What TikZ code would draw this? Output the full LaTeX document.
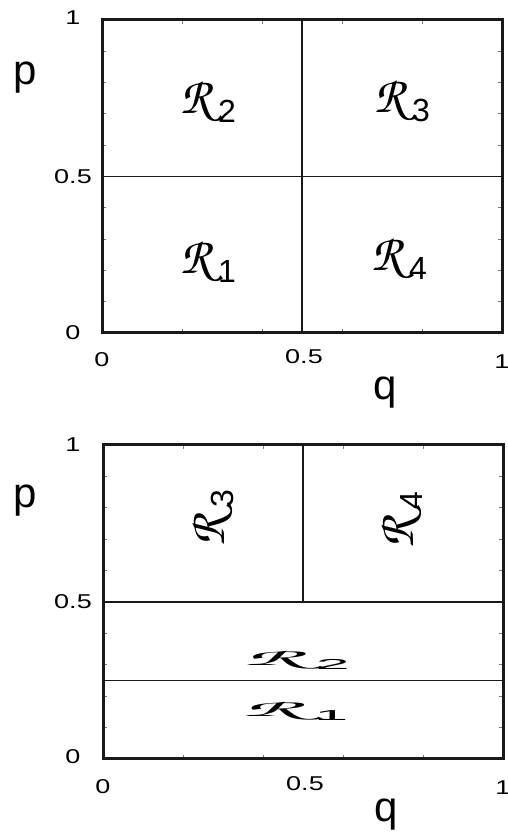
\documentclass[tikz,border=0pt]{standalone}
\usepackage{fontspec}
\setmainfont{Liberation Sans}
\usetikzlibrary{positioning}
\definecolor{marco}{RGB}{25,25,25}
\definecolor{grisf}{RGB}{120,120,120}
\newcommand{\caligr}{{\fontencoding{T1}\fontfamily{pzc}\fontseries{mb}\fontshape{it}\selectfont R}}
\newcommand{\reg}[1]{\caligr\kern3.5pt\raisebox{-4.5pt}{\fontsize{16}{16}\selectfont #1}}
\newcommand{\ejes}{%
  \foreach \t in {0.2,0.4,0.6,0.8} {
    \draw[tic] (\t,0) -- ++(0,2pt);
    \draw[tic] (\t,1) -- ++(0,-2pt);
  }
  \foreach \t in {0.1,0.2,...,0.9} {
    \draw[tic] (0,\t) -- ++(2pt,0);
    \draw[tic] (1,\t) -- ++(-2pt,0);
  }}
\tikzset{
  borde/.style={draw=marco, line width=1.5pt},
  linea/.style={draw=marco, line width=0.6pt},
  tic/.style={draw=grisf, line width=0.5pt},
  num/.style={font=\fontsize{10}{10}\selectfont, inner sep=0pt, xscale=1.35},
  eje/.style={font=\fontsize{21}{21}\selectfont, inner sep=0pt},
  reg/.style={font=\fontsize{26}{26}\selectfont, inner sep=0pt},
}
\begin{document}
\begin{tikzpicture}[x=0.5pt, y=0.5pt]
  \useasboundingbox (0,0) rectangle (508,835);
  % upper panel
  \begin{scope}[xshift=51pt, yshift=251pt, x=200pt, y=156.5pt]
    \ejes
    \draw[linea] (0,0.5) -- (1,0.5);
    \draw[linea] (0.5,0) -- (0.5,1);
    \draw[borde] (0,0) rectangle (1,1);
    \node[xshift=-14.5pt, yshift=1pt, num] (a1) at (0,1) {1};
    \node[xshift=-14.5pt, num] (a5) at (0,0.5) {0.5};
    \node[xshift=-14.5pt, num] (a0) at (0,0) {0};
    \node[yshift=-13.5pt, num] (b0) at (0,0) {0};
    \node[xshift=1pt, yshift=-12pt, num] (b5) at (0.5,0) {0.5};
    \node[yshift=-14.5pt, num] (b1) at (1,0) {1};
    \node[eje, xshift=-38.5pt, yshift=-28.75pt] (ap) at (0,1) {p};
    \node[eje, yshift=-29.75pt] (aq) at (0.7075,0) {q};
    \node[reg] (r1) at (0.265,0.23) {\reg{1}};
    \node[reg] (r2) at (0.265,0.741) {\reg{2}};
    \node[reg] (r3) at (0.75,0.744) {\reg{3}};
    \node[reg] (r4) at (0.7425,0.238) {\reg{4}};
  \end{scope}
  % lower panel
  \begin{scope}[xshift=51.5pt, yshift=38pt, x=200pt, y=157pt]
    \ejes
    \draw[linea] (0,0.5) -- (1,0.5);
    \draw[linea] (0,0.25) -- (1,0.25);
    \draw[linea] (0.5,0.5) -- (0.5,1);
    \draw[borde] (0,0) rectangle (1,1);
    \node[xshift=-15pt, num] (c1) at (0,1) {1};
    \node[xshift=-15pt, num] (c5) at (0,0.5) {0.5};
    \node[xshift=-15pt, yshift=1pt, num] (c0) at (0,0) {0};
    \node[yshift=-13.75pt, num] (d0) at (0,0) {0};
    \node[xshift=1pt, yshift=-12.25pt, num] (d5) at (0.5,0) {0.5};
    \node[yshift=-14.5pt, num] (d1) at (1,0) {1};
    \node[eje, xshift=-39pt, yshift=-28pt] (cp) at (0,1) {p};
    \node[eje, yshift=-28pt] (cq) at (0.7075,0) {q};
    \node[reg, rotate=90] (s3) at (0.2725,0.7675) {\reg{3}};
    \node[reg, rotate=90] (s4) at (0.745,0.761) {\reg{4}};
    \node[reg, xscale=1.9, yscale=0.45] (s2) at (0.484,0.317) {\reg{2}};
    \node[reg, xscale=1.9, yscale=0.45] (s1) at (0.48,0.154) {\reg{1}};
  \end{scope}
\end{tikzpicture}
\end{document}
